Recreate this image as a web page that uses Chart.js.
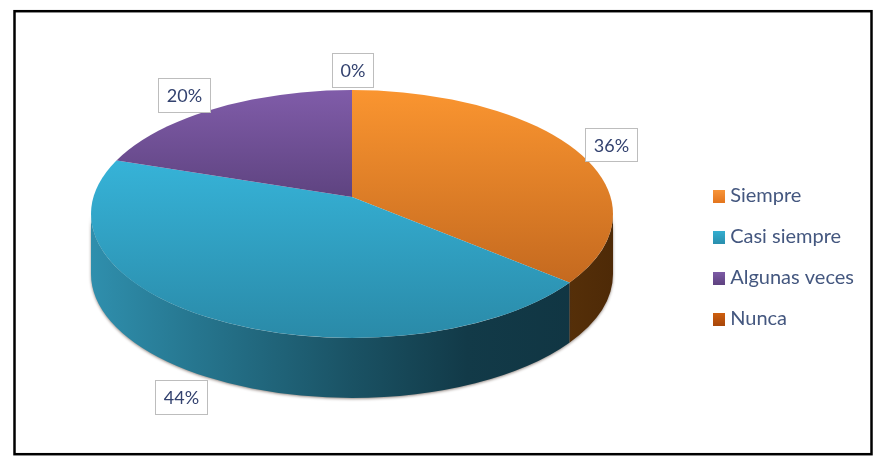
<!DOCTYPE html>
<html>
<head>
<meta charset="utf-8">
<style>
    body { margin: 0; background: #fff; }
</style>
<script src="https://cdn.jsdelivr.net/npm/chart.js@4"></script>
</head>
<body>
<canvas id="pie-chart" width="882" height="465"></canvas>
<script>
// Data
const categories = ['Siempre', 'Casi siempre', 'Algunas veces', 'Nunca'];
const seriesValues = [36, 44, 20, 0];

const legendColors = [['#F9963A', '#E4761E'], ['#35B0D2', '#2A8FAE'], ['#7F5CA8', '#5F4380'], ['#D0600F', '#A8470A']];
const topColors = [['#FA9530', '#C4691F'], ['#36B3D8', '#2A8AA8'], ['#805CA9', '#5E4380'], ['#D0600F', '#A8470A']];
const topRanges = [[90, 285], [160, 338], [90, 198], [90, 198]];
const labelBoxes = [[585, 128, 53, 34], [155, 380, 53, 35], [158, 78, 53, 35], [332, 53, 42, 35]];

// Geometry of the tilted disc, in page pixels. The slices meet above the centre of
// the ellipse (perspective), so they are drawn oversized from the apex and clipped.
const disc = { cx: 352, cy: 214, rx: 261, ry: 124, depth: 60 };
const apex = { x: 352, y: 197, sx: 315, sy: 150 };

const FONT = 'Lato, Carlito, sans-serif';

// Where the slice edge at this angle meets the ellipse, as an ellipse parameter
function ellipseParam(angle) {
    const dx = apex.sx * Math.cos(angle) / disc.rx;
    const dy = apex.sy * Math.sin(angle) / disc.ry;
    const oy = (apex.y - disc.cy) / disc.ry;
    const a = dx * dx + dy * dy;
    const b = 2 * oy * dy;
    const c = oy * oy - 1;
    const k = (-b + Math.sqrt(b * b - 4 * a * c)) / (2 * a);
    let t = Math.atan2(oy + k * dy, k * dx);
    if (t < -Math.PI / 2) t += Math.PI * 2;
    return t;
}

function wallGradient(ctx, index) {
    const g = ctx.createLinearGradient(disc.cx - disc.rx, 0, disc.cx + disc.rx, 0);
    if (index === 0) {
        g.addColorStop(0.8, '#5F360B');
        g.addColorStop(1, '#4E2A07');
    } else {
        g.addColorStop(0, '#2F8FAD');
        g.addColorStop(0.2, '#26768F');
        g.addColorStop(0.5, '#1A5264');
        g.addColorStop(0.72, '#123A48');
        g.addColorStop(1, '#103441');
    }
    return g;
}

function drawWalls(chart) {
    const ctx = chart.ctx;
    chart.getDatasetMeta(0).data.forEach((arc, i) => {
        if (seriesValues[i] === 0) return;
        const t0 = Math.max(ellipseParam(arc.startAngle), 0);
        const t1 = Math.min(ellipseParam(arc.endAngle), Math.PI);
        if (t1 <= t0) return;
        ctx.save();
        ctx.shadowColor = 'rgba(60,40,30,0.55)';
        ctx.shadowBlur = 3;
        ctx.shadowOffsetY = 1;
        ctx.beginPath();
        ctx.ellipse(disc.cx, disc.cy, disc.rx, disc.ry, 0, t0, t1);
        ctx.ellipse(disc.cx, disc.cy + disc.depth, disc.rx, disc.ry, 0, t1, t0, true);
        ctx.closePath();
        ctx.fillStyle = wallGradient(ctx, i);
        ctx.fill();
        ctx.restore();
    });
}

const pie3d = {
    id: 'pie3d',
    beforeDraw(chart) {
        const ctx = chart.ctx;
        ctx.save();
        ctx.fillStyle = '#fff';
        ctx.fillRect(0, 0, chart.width, chart.height);
        ctx.strokeStyle = '#000';
        ctx.lineWidth = 2.5;
        ctx.strokeRect(14.5, 11.2, 857, 443);
        ctx.restore();
    },
    beforeDatasetsDraw(chart) {
        const ctx = chart.ctx;
        const first = chart.getDatasetMeta(0).data[0];
        drawWalls(chart);
        ctx.save();
        ctx.beginPath();
        ctx.ellipse(disc.cx, disc.cy, disc.rx, disc.ry, 0, 0, Math.PI * 2);
        ctx.clip();
        ctx.translate(apex.x, apex.y);
        ctx.scale(apex.sx / first.outerRadius, apex.sy / first.outerRadius);
        ctx.translate(-first.x, -first.y);
    },
    afterDatasetsDraw(chart) {
        const ctx = chart.ctx;
        ctx.restore();
        // Boxed percentage labels
        ctx.save();
        ctx.font = '18px ' + FONT;
        ctx.textAlign = 'center';
        ctx.textBaseline = 'middle';
        labelBoxes.forEach((box, i) => {
            ctx.fillStyle = '#fff';
            ctx.fillRect(box[0], box[1], box[2], box[3]);
            ctx.strokeStyle = '#BDBDBD';
            ctx.lineWidth = 1;
            ctx.strokeRect(box[0] + 0.5, box[1] + 0.5, box[2] - 1, box[3] - 1);
            ctx.fillStyle = '#33426F';
            ctx.fillText(seriesValues[i] + '%', box[0] + box[2] / 2, box[1] + box[3] / 2 + 1);
        });
        ctx.restore();
    }
};

// Small swatch with the slight gradient of the original legend
function makeSwatch(colors) {
    const c = document.createElement('canvas');
    c.width = 12;
    c.height = 13;
    const g = c.getContext('2d');
    const grad = g.createLinearGradient(0, 0, 0, 13);
    grad.addColorStop(0, colors[0]);
    grad.addColorStop(1, colors[1]);
    g.fillStyle = grad;
    g.fillRect(0, 0, 12, 13);
    return c;
}
const swatches = legendColors.map(makeSwatch);

// Vertical gradient of each top face, given in page pixels and converted to chart space
function sliceColor(context) {
    const i = context.dataIndex;
    const area = context.chart.chartArea;
    if (!area) return topColors[i][0];
    const radius = Math.min(area.right - area.left, area.bottom - area.top) / 2;
    const midY = (area.top + area.bottom) / 2;
    const toLocal = y => midY + (y - apex.y) / apex.sy * radius;
    const g = context.chart.ctx.createLinearGradient(0, toLocal(topRanges[i][0]), 0, toLocal(topRanges[i][1]));
    g.addColorStop(0, topColors[i][0]);
    g.addColorStop(1, topColors[i][1]);
    return g;
}

new Chart(document.getElementById('pie-chart'), {
    type: 'pie',
    data: {
        labels: categories,
        datasets: [{
            data: seriesValues,
            backgroundColor: sliceColor,
            borderWidth: 0
        }]
    },
    options: {
        responsive: false,
        animation: false,
        layout: { padding: { top: 50, right: 18 } },
        plugins: {
            tooltip: { enabled: false },
            legend: {
                position: 'right',
                labels: {
                    boxWidth: 2,
                    boxHeight: 13,
                    padding: 21,
                    usePointStyle: true,
                    color: '#44577F',
                    font: { family: FONT, size: 20 },
                    generateLabels(chart) {
                        return categories.map((name, i) => ({
                            text: name,
                            fontColor: '#44577F',
                            pointStyle: swatches[i],
                            fillStyle: legendColors[i][0],
                            lineWidth: 0,
                            hidden: false,
                            index: i
                        }));
                    }
                }
            }
        }
    },
    plugins: [pie3d]
});
</script>
</body>
</html>
